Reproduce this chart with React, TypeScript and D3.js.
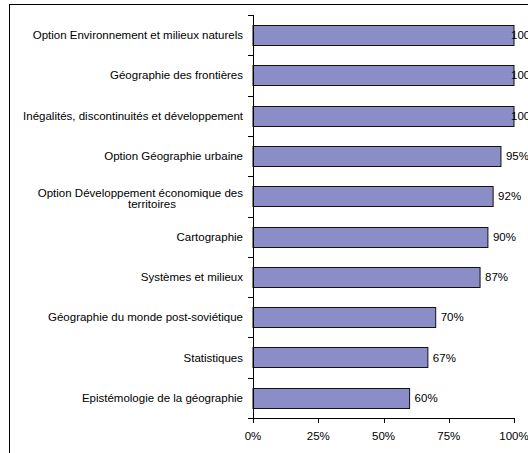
import * as React from "react";
import { useEffect, useRef } from "react";
import * as d3 from "d3";

const categories = [
  "Option Environnement et milieux naturels",
  "Géographie des frontières",
  "Inégalités, discontinuités et développement",
  "Option Géographie urbaine",
  "Option Développement économique des territoires",
  "Cartographie",
  "Systèmes et milieux",
  "Géographie du monde post-soviétique",
  "Statistiques",
  "Epistémologie de la géographie",
];
const values = [100, 100, 100, 95, 92, 90, 87, 70, 67, 60];
const xTicks = [0, 25, 50, 75, 100];

const W = 528;
const H = 453;

const App: React.FC = () => {
  const ref = useRef<SVGSVGElement>(null);

  useEffect(() => {
    const svg = d3.select(ref.current);
    svg.selectAll("*").remove();

    const left = 253;
    const right = 514;
    const top = 15;
    const bottom = 418;
    const fs = 11.5;

    // frame (cropped on right and bottom, like the original)
    svg
      .append("rect")
      .attr("x", 9.5)
      .attr("y", 4.5)
      .attr("width", W + 20)
      .attr("height", H + 20)
      .attr("fill", "white")
      .attr("stroke", "#000");

    const x = d3.scaleLinear().domain([0, 100]).range([left, right]);
    const y = d3
      .scaleBand()
      .domain(categories)
      .range([top, bottom])
      .paddingInner(0.5)
      .paddingOuter(0.25);
    const band = (bottom - top) / categories.length;

    const font = "Arial, 'Liberation Sans', sans-serif";

    // bars
    svg
      .selectAll("rect.bar")
      .data(values)
      .enter()
      .append("rect")
      .attr("class", "bar")
      .attr("x", x(0))
      .attr("y", (d, i) => Math.round(y(categories[i])!) + 0.5)
      .attr("width", (d) => x(d) - x(0))
      .attr("height", Math.round(y.bandwidth()))
      .attr("fill", "#8B8DC6")
      .attr("stroke", "#111")
      .attr("stroke-width", 1);

    // value labels
    svg
      .selectAll("text.val")
      .data(values)
      .enter()
      .append("text")
      .attr("class", "val")
      .attr("x", (d) => Math.min(x(d) + 5, right - 3))
      .attr("y", (d, i) => y(categories[i])! + y.bandwidth() / 2)
      .attr("dy", "0.35em")
      .attr("font-family", font)
      .attr("font-size", fs)
      .attr("fill", "#000")
      .text((d) => d + "%");

    // y axis
    const g = svg.append("g").attr("stroke", "#000").attr("stroke-width", 1);
    g.append("line")
      .attr("x1", left + 0.5)
      .attr("x2", left + 0.5)
      .attr("y1", top)
      .attr("y2", bottom);
    d3.range(categories.length + 1).forEach((i) => {
      const yy = Math.round(top + i * band) + 0.5;
      g.append("line")
        .attr("x1", left - 5)
        .attr("x2", left + 0.5)
        .attr("y1", yy)
        .attr("y2", yy);
    });

    // x axis
    g.append("line")
      .attr("x1", left)
      .attr("x2", right + 0.5)
      .attr("y1", bottom + 0.5)
      .attr("y2", bottom + 0.5);
    xTicks.forEach((t) => {
      const xx = Math.round(x(t)) + 0.5;
      g.append("line")
        .attr("x1", xx)
        .attr("x2", xx)
        .attr("y1", bottom)
        .attr("y2", bottom + 5);
    });
    svg
      .selectAll("text.xt")
      .data(xTicks)
      .enter()
      .append("text")
      .attr("class", "xt")
      .attr("x", (d) => x(d))
      .attr("y", bottom + 18)
      .attr("dy", "0.35em")
      .attr("text-anchor", "middle")
      .attr("font-family", font)
      .attr("font-size", fs)
      .text((d) => d + "%");

    // category labels
    categories.forEach((c) => {
      const cy = y(c)! + y.bandwidth() / 2;
      if (c.startsWith("Option Développement")) {
        svg
          .append("text")
          .attr("font-family", font)
          .attr("font-size", fs)
          .attr("x", left - 10)
          .attr("y", cy - 3.5)
          .attr("dy", "0.35em")
          .attr("text-anchor", "end")
          .text("Option Développement économique des");
        svg
          .append("text")
          .attr("font-family", font)
          .attr("font-size", fs)
          .attr("x", left - 101)
          .attr("y", cy + 8)
          .attr("dy", "0.35em")
          .attr("text-anchor", "middle")
          .text("territoires");
      } else {
        svg
          .append("text")
          .attr("font-family", font)
          .attr("font-size", fs)
          .attr("x", left - 10)
          .attr("y", cy)
          .attr("dy", "0.35em")
          .attr("text-anchor", "end")
          .text(c);
      }
    });
  }, []);

  return (
    <svg
      ref={ref}
      width={W}
      height={H}
      style={{ position: "absolute", left: 0, top: 0, display: "block", background: "white" }}
    ></svg>
  );
};

export default App;
